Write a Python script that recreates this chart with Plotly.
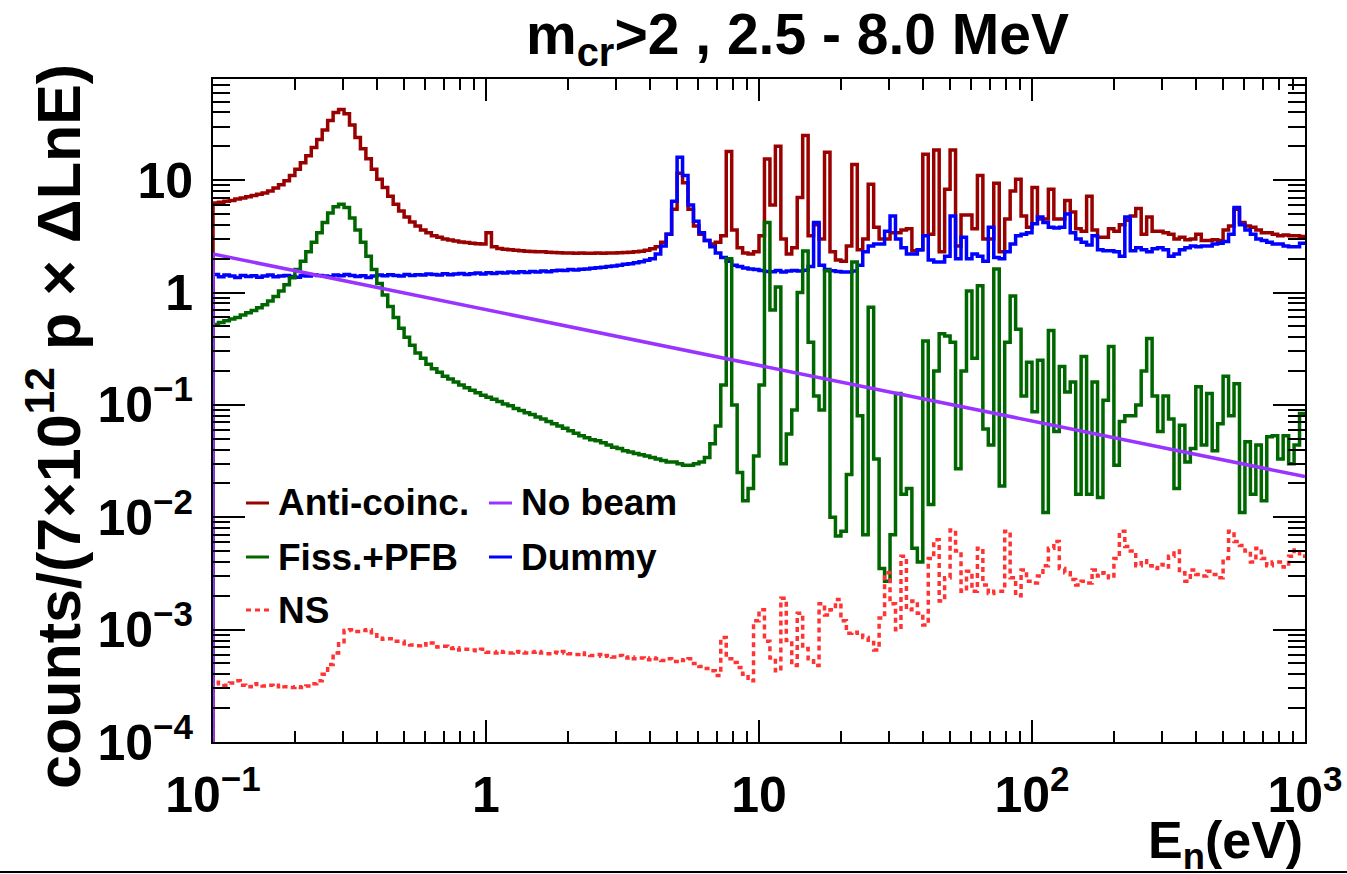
import numpy as np
import plotly.graph_objects as go

# ---------------- data ----------------
E_MIN, E_MAX, N_BINS = 0.1, 1000.0, 200          # log-binned histogram, 50 bins/decade
E_EDGES = np.logspace(np.log10(E_MIN), np.log10(E_MAX), N_BINS + 1)

ANTI_COINC = [
    6.25, 6.35, 6.5, 6.6, 6.8, 6.95, 7.1, 7.3, 7.5, 7.7,
    8.0, 8.5, 9.1, 9.9, 11.0, 12.5, 14.3, 16.5, 19.5, 23,
    28, 34, 40, 42.5, 39, 31, 24, 19, 15.5, 12.5,
    10.2, 8.6, 7.2, 6.1, 5.3, 4.7, 4.25, 3.9, 3.6, 3.4,
    3.2, 3.1, 3.0, 2.93, 2.87, 2.82, 2.78, 2.75, 2.72, 2.7,
    3.4, 2.55, 2.47, 2.43, 2.4, 2.38, 2.35, 2.33, 2.32, 2.31,
    2.3, 2.28, 2.27, 2.26, 2.25, 2.25, 2.24, 2.25, 2.23, 2.24,
    2.25, 2.24, 2.25, 2.25, 2.26, 2.27, 2.28, 2.3, 2.33, 2.38,
    2.45, 2.55, 2.8, 3.3, 5.5, 11.5, 9.5, 5.5, 3.9, 3.3,
    2.9, 2.7, 2.8, 3.2, 18, 3.6, 2.5, 2.25, 2.2, 2.3,
    3.2, 15.4, 6.0, 20, 3.0, 2.2, 2.5, 7.0, 25, 3.2,
    4.0, 3.0, 17.7, 2.3, 1.95, 1.9, 2.6, 13.8, 2.4, 3.0,
    9.2, 3.8, 3.0, 3.0, 3.4, 3.4, 3.6, 3.7, 2.35, 2.4,
    17, 3.3, 18.5, 2.3, 8.3, 18.5, 2.6, 4.9, 4.9, 3.7,
    11, 3.0, 3.0, 9.4, 2.3, 4.5, 8.0, 10.2, 4.8, 3.8,
    8.6, 4.5, 4.5, 8.3, 4.5, 4.5, 6.6, 5.2, 3.7, 3.5,
    7.2, 3.6, 3.1, 3.1, 3.7, 3.5, 4.0, 4.4, 4.8, 5.6,
    3.3, 4.7, 3.5, 3.5, 3.4, 3.3, 3.0, 3.1, 2.95, 3.0,
    3.3, 2.9, 2.9, 2.95, 2.9, 3.6, 3.9, 5.5, 4.2, 3.9,
    3.8, 3.6, 3.4, 3.4, 3.3, 3.2, 3.25, 3.2, 3.2, 3.15,
]

DUMMY = [
    1.45, 1.38, 1.43, 1.40, 1.36, 1.42, 1.39, 1.41, 1.37, 1.40,
    1.43, 1.38, 1.40, 1.42, 1.39, 1.37, 1.41, 1.40, 1.44, 1.42,
    1.40, 1.38, 1.43, 1.41, 1.45, 1.42, 1.39, 1.41, 1.36, 1.40,
    1.43, 1.41, 1.44, 1.42, 1.40, 1.45, 1.42, 1.44, 1.43, 1.46,
    1.45, 1.43, 1.47, 1.44, 1.46, 1.48, 1.45, 1.47, 1.49, 1.46,
    1.50, 1.48, 1.51, 1.49, 1.52, 1.50, 1.53, 1.51, 1.54, 1.52,
    1.55, 1.53, 1.56, 1.58, 1.57, 1.60, 1.59, 1.61, 1.62, 1.64,
    1.66, 1.68, 1.70, 1.72, 1.75, 1.78, 1.80, 1.84, 1.88, 1.94,
    2.0, 2.2, 2.6, 3.3, 6.5, 16, 11, 6.0, 4.3, 3.4,
    2.9, 2.55, 2.25, 2.05, 1.9, 1.75, 1.7, 1.65, 1.62, 1.6,
    1.57, 1.54, 1.53, 1.57, 1.52, 1.55, 1.57, 1.55, 1.58, 1.7,
    4.2, 1.75, 1.6, 1.56, 1.54, 1.52, 1.52, 1.55, 1.75, 2.3,
    2.6, 2.7, 2.7, 3.5, 4.8, 3.0, 2.5, 2.2, 2.2, 2.4,
    3.2, 1.95, 1.87, 1.87, 2.1, 4.8, 2.0, 3.1, 2.0, 2.2,
    2.1, 1.9, 3.8, 2.05, 2.0, 2.3, 2.7, 3.2, 3.3, 3.4,
    4.1, 4.7, 4.2, 3.8, 3.75, 3.8, 5.0, 3.4, 3.0, 2.8,
    2.65, 3.2, 2.4, 2.35, 2.35, 2.3, 2.1, 4.7, 2.35, 2.5,
    2.4, 2.3, 2.45, 2.5, 2.4, 2.1, 2.2, 2.4, 2.5, 2.6,
    2.55, 2.6, 2.6, 2.7, 2.75, 2.85, 3.3, 5.7, 4.0, 3.6,
    3.3, 3.0, 2.9, 2.8, 2.7, 2.7, 2.6, 2.55, 2.55, 2.75,
]

FISS_PFB = [
    0.52, 0.54, 0.56, 0.58, 0.60, 0.63, 0.66, 0.69, 0.73, 0.78,
    0.84, 0.92, 1.03, 1.17, 1.35, 1.6, 1.9, 2.3, 2.8, 3.4,
    4.2, 5.1, 5.8, 6.1, 5.7, 4.6, 3.6, 2.8, 2.1, 1.6,
    1.2, 0.95, 0.75, 0.6, 0.48, 0.40, 0.34, 0.29, 0.26, 0.23,
    0.21, 0.195, 0.18, 0.17, 0.16, 0.15, 0.142, 0.135, 0.128, 0.122,
    0.117, 0.112, 0.107, 0.102, 0.098, 0.093, 0.089, 0.085, 0.082, 0.078,
    0.075, 0.071, 0.068, 0.065, 0.062, 0.059, 0.056, 0.053, 0.051, 0.049,
    0.048, 0.046, 0.044, 0.042, 0.041, 0.039, 0.038, 0.037, 0.036, 0.035,
    0.034, 0.033, 0.032, 0.031, 0.031, 0.030, 0.029, 0.029, 0.030, 0.031,
    0.034, 0.045, 0.065, 0.15, 2.0, 0.1, 0.025, 0.014, 0.018, 0.035,
    0.15, 4.2, 0.7, 1.12, 0.03, 0.055, 0.09, 1.0, 2.34, 0.36,
    0.12, 0.09, 1.56, 0.01, 0.0068, 0.0075, 0.024, 1.87, 0.08, 0.007,
    0.74, 0.033, 0.0035, 0.0027, 0.007, 0.126, 0.016, 0.018, 0.0053, 0.004,
    0.37, 0.013, 0.2, 0.43, 0.41, 0.36, 0.027, 0.2, 1.03, 0.26,
    1.15, 0.061, 0.044, 1.62, 0.019, 0.36, 0.93, 0.47, 0.12, 0.24,
    0.087, 0.25, 0.011, 0.46, 0.058, 0.22, 0.13, 0.16, 0.016, 0.27,
    0.016, 0.16, 0.015, 0.11, 0.33, 0.029, 0.071, 0.08, 0.08, 0.1,
    0.2, 0.39, 0.12, 0.058, 0.12, 0.075, 0.018, 0.066, 0.031, 0.041,
    0.145, 0.044, 0.126, 0.039, 0.068, 0.18, 0.08, 0.154, 0.011, 0.047,
    0.016, 0.044, 0.014, 0.052, 0.053, 0.033, 0.053, 0.03, 0.044, 0.084,
]

NS = [
    3.4e-4, 3.3e-4, 3.2e-4, 3.35e-4, 3.5e-4, 3.2e-4, 3.1e-4, 3.3e-4, 3.25e-4, 3.15e-4,
    3.2e-4, 3.1e-4, 3.2e-4, 3.1e-4, 3.05e-4, 3.1e-4, 3.05e-4, 3.15e-4, 3.3e-4, 3.5e-4,
    4.0e-4, 4.9e-4, 6.2e-4, 7.5e-4, 9.8e-4, 1.0e-3, 9.6e-4, 9.8e-4, 1.0e-3, 9.4e-4,
    8.4e-4, 8.2e-4, 8.3e-4, 7.9e-4, 7.9e-4, 7.5e-4, 7.3e-4, 7.2e-4, 7.5e-4, 7.3e-4,
    7.6e-4, 7.0e-4, 7.1e-4, 6.8e-4, 6.9e-4, 6.6e-4, 6.7e-4, 6.6e-4, 6.5e-4, 6.7e-4,
    6.3e-4, 6.2e-4, 6.4e-4, 6.3e-4, 6.2e-4, 6.4e-4, 6.3e-4, 6.2e-4, 6.3e-4, 6.4e-4,
    6.2e-4, 6.1e-4, 6.3e-4, 6.2e-4, 6.4e-4, 6.1e-4, 6.0e-4, 6.2e-4, 6.0e-4, 5.9e-4,
    6.0e-4, 5.8e-4, 5.9e-4, 5.7e-4, 5.9e-4, 5.6e-4, 5.7e-4, 5.5e-4, 5.6e-4, 5.4e-4,
    5.6e-4, 5.5e-4, 5.3e-4, 5.5e-4, 5.2e-4, 5.4e-4, 5.3e-4, 5.5e-4, 5.0e-4, 4.7e-4,
    4.5e-4, 4.3e-4, 3.9e-4, 8.5e-4, 5.5e-4, 5.1e-4, 4.6e-4, 4.0e-4, 3.5e-4, 1.2e-3,
    1.5e-3, 7.9e-4, 5.6e-4, 4.3e-4, 1.9e-3, 8.0e-4, 4.8e-4, 1.4e-3, 6.8e-4, 5.5e-4,
    4.8e-4, 1.7e-3, 1.35e-3, 1.5e-3, 1.85e-3, 1.2e-3, 9.3e-4, 9.5e-4, 8.9e-4, 8.5e-4,
    7.7e-4, 6.6e-4, 1.27e-3, 3.2e-3, 1.7e-3, 1.0e-3, 4.5e-3, 1.5e-3, 1.8e-3, 1.4e-3,
    1.1e-3, 4.3e-3, 6.3e-3, 1.8e-3, 2.9e-3, 7.7e-3, 5.0e-3, 2.2e-3, 3.3e-3, 2.2e-3,
    5.3e-3, 2.5e-3, 2.1e-3, 2.2e-3, 2.2e-3, 7.5e-3, 2.9e-3, 2.0e-3, 3.4e-3, 2.7e-3,
    2.6e-3, 3.0e-3, 3.7e-3, 5.3e-3, 6.1e-3, 3.5e-3, 3.2e-3, 2.8e-3, 2.5e-3, 2.7e-3,
    2.6e-3, 3.4e-3, 3.0e-3, 3.2e-3, 2.9e-3, 4.3e-3, 7.5e-3, 5.5e-3, 5.0e-3, 3.7e-3,
    4.1e-3, 3.7e-3, 3.5e-3, 3.8e-3, 3.6e-3, 4.5e-3, 5.0e-3, 3.2e-3, 2.7e-3, 3.4e-3,
    3.1e-3, 3.0e-3, 3.3e-3, 3.1e-3, 2.9e-3, 4.3e-3, 7.5e-3, 6.1e-3, 5.6e-3, 5.0e-3,
    4.0e-3, 5.3e-3, 4.3e-3, 3.7e-3, 4.0e-3, 4.0e-3, 3.6e-3, 4.5e-3, 5.1e-3, 4.5e-3,
]

NO_BEAM_E = [0.1, 1000.0]
NO_BEAM = [2.2, 0.023]

BASELINE = 1e-6   # histogram drop to zero at the first bin edge (below the axis range)

X_TICKS = [0.1, 1, 10, 100, 1000]
X_TICKTEXT = ["10<sup>\u22121</sup>", "1", "10", "10<sup>2</sup>", "10<sup>3</sup>"]
Y_TICKS = [1e-4, 1e-3, 1e-2, 1e-1, 1, 10]
Y_TICKTEXT = ["10<sup>\u22124</sup>", "10<sup>\u22123</sup>", "10<sup>\u22122</sup>",
              "10<sup>\u22121</sup>", "1", "10"]

# ---------------- styling ----------------
FONT = "Liberation Sans"
C_RED, C_GREEN, C_BLUE, C_PURPLE, C_NS = "#990000", "#006600", "#0000ff", "#9933ff", "#ff3333"
LW = 3.5
NS_DASH = "5px,4px"


def hist_xy(values):
    x = [E_EDGES[0]] + list(E_EDGES)
    y = [BASELINE] + list(values) + [values[-1]]
    return x, y


fig = go.Figure()
for vals, col, dash in [(ANTI_COINC, C_RED, "solid"), (DUMMY, C_BLUE, "solid"),
                        (FISS_PFB, C_GREEN, "solid"), (NS, C_NS, NS_DASH)]:
    hx, hy = hist_xy(vals)
    fig.add_trace(go.Scatter(x=hx, y=hy, mode="lines", line_shape="hv",
                             line=dict(color=col, width=LW, dash=dash),
                             showlegend=False, hoverinfo="skip"))
fig.add_trace(go.Scatter(x=[NO_BEAM_E[0]] + NO_BEAM_E, y=[BASELINE] + NO_BEAM, mode="lines",
                         line=dict(color=C_PURPLE, width=LW), showlegend=False, hoverinfo="skip"))


def minor_vals(lo_exp, hi_exp):
    return [m * 10.0 ** e for e in range(lo_exp, hi_exp) for m in range(2, 10)]


axis_common = dict(type="log", showgrid=False, zeroline=False, showline=True,
                   linecolor="black", linewidth=2, mirror="ticks", ticks="inside",
                   tickcolor="black", tickwidth=1.5,
                   tickfont=dict(family=FONT, size=50, color="black", weight="bold"))

fig.update_xaxes(**axis_common, range=[-1, 3], tickmode="array", tickvals=X_TICKS,
                 ticktext=X_TICKTEXT, ticklen=22, ticklabelstandoff=8,
                 minor=dict(ticks="inside", ticklen=11, tickwidth=1.5, tickcolor="black",
                            tickmode="array", tickvals=minor_vals(-1, 3)))
fig.update_yaxes(**axis_common, range=[-4, 1.9], tickmode="array", tickvals=Y_TICKS,
                 ticktext=Y_TICKTEXT, ticklen=32, ticklabelstandoff=8,
                 minor=dict(ticks="inside", ticklen=17, tickwidth=1.5, tickcolor="black",
                            tickmode="array", tickvals=minor_vals(-4, 2)))

L, R, T, B = 213, 42, 79, 132
W, H = 1347, 874
PW, PH = W - L - R, H - T - B


def px(xp):
    return (xp - L) / PW


def py(yp):
    return (H - B - yp) / PH


annotations = [
    dict(text="m<sub>cr</sub>>2 , 2.5 - 8.0 MeV", x=px(797), y=py(38),
         font=dict(family=FONT, size=57, color="black", weight="bold")),
    dict(text="counts/(7\u00d710<sup>12</sup> p \u00d7 \u0394LnE)", x=px(54), y=py(427),
         textangle=-90, font=dict(family=FONT, size=61, color="black", weight="bold")),
    dict(text="E<sub>n</sub>(eV)", x=px(1305), y=py(844), xanchor="right",
         font=dict(family=FONT, size=52, color="black", weight="bold")),
]
shapes = []
legend_items = [
    ("Anti-coinc.", C_RED, "solid", 246, 276, 503),
    ("No beam", C_PURPLE, "solid", 489, 519, 503),
    ("Fiss.+PFB", C_GREEN, "solid", 246, 276, 557),
    ("Dummy", C_BLUE, "solid", 489, 519, 557),
    ("NS", C_NS, NS_DASH, 246, 276, 610),
]
for label, col, dash, lx, tx, ly in legend_items:
    shapes.append(dict(type="line", xref="paper", yref="paper", x0=px(lx), x1=px(lx + 23),
                       y0=py(ly), y1=py(ly), line=dict(color=col, width=3, dash=dash)))
    annotations.append(dict(text=label, x=px(tx), y=py(ly), xanchor="left", yanchor="middle",
                            font=dict(family=FONT, size=37, color="black", weight="bold")))
for a in annotations:
    a.setdefault("xref", "paper")
    a.setdefault("yref", "paper")
    a.setdefault("showarrow", False)
    a.setdefault("xanchor", "center")
    a.setdefault("yanchor", "middle")

shapes.append(dict(type="line", xref="paper", yref="paper", x0=px(0), x1=px(W),
                   y0=py(872), y1=py(872), line=dict(color="black", width=2)))

fig.update_layout(width=W, height=H, margin=dict(l=L, r=R, t=T, b=B, autoexpand=False),
                  paper_bgcolor="white", plot_bgcolor="white",
                  annotations=annotations, shapes=shapes, showlegend=False)

fig.write_html("out.html")
